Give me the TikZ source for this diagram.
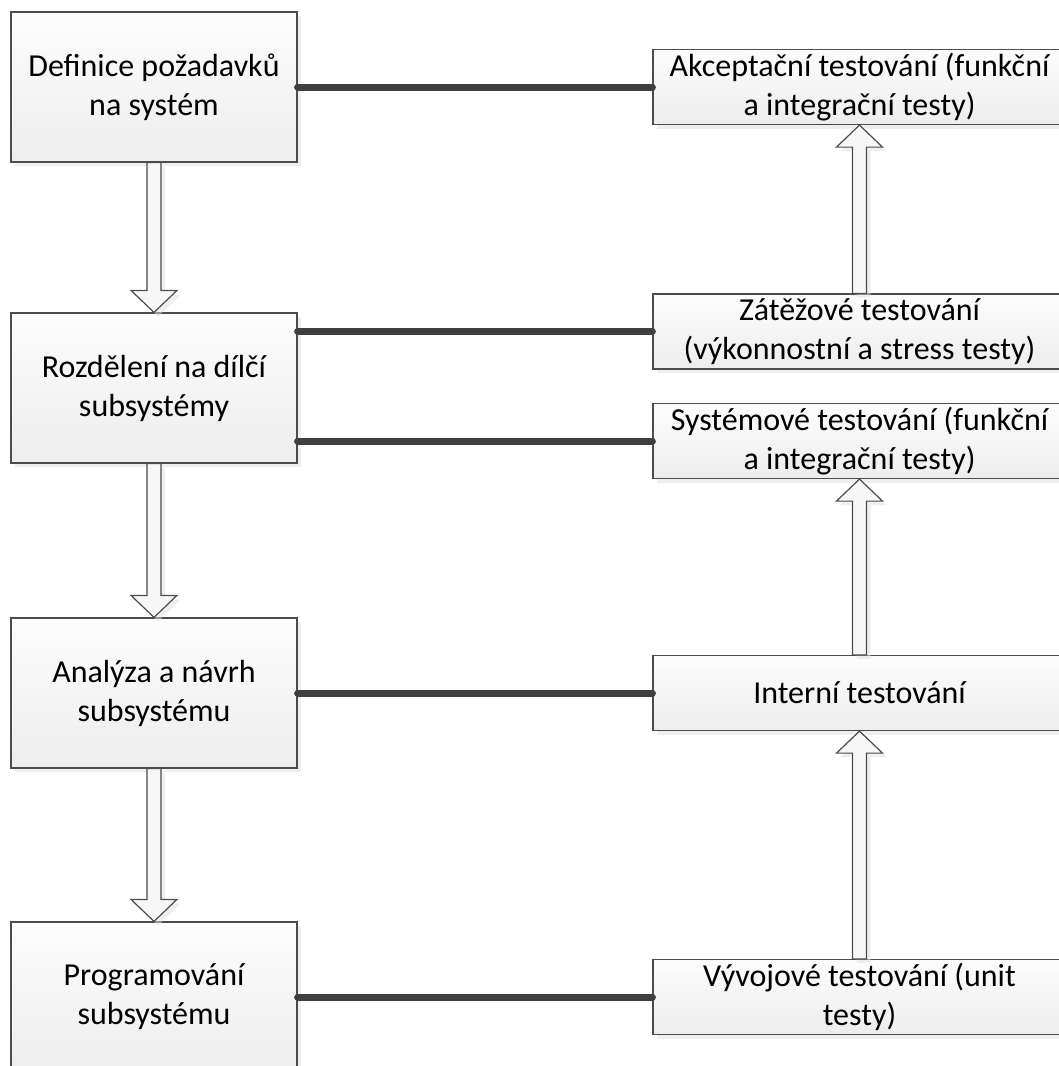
\documentclass[tikz,border=0pt]{standalone}
\usepackage{fontspec}
\setmainfont{Carlito}
\usetikzlibrary{calc,shadows}

\tikzset{
  box/.style={draw=black!70, line width=0.6pt, top color=gray!2, bottom color=gray!14,
    inner sep=0pt, align=center, font=\fontsize{16}{19.5}\selectfont,
    drop shadow={shadow xshift=2pt, shadow yshift=-2pt, fill=gray!25}},
  stagebox/.style={box, minimum width=143pt, minimum height=75pt},
  testbox/.style={box, minimum width=206.5pt, minimum height=37.5pt},
  link/.style={draw=black!75, line width=3.5pt, line cap=round},
  hollow/.style={draw=black!70, line width=0.6pt, fill=gray!6,
    drop shadow={shadow xshift=2pt, shadow yshift=-2pt, fill=gray!25}}
}

% block arrow: #1 tail, #2 tip, #3 = 1 pointing down, -1 pointing up
\newcommand{\hollowarrow}[3]{%
  \path[hollow] ($(#1)+(-7,0)$) -- ($(#2)+(-7,{-22*(#3)})$) -- ($(#2)+(-23,{-22*(#3)})$)
    -- (#2) -- ($(#2)+(23,{-22*(#3)})$) -- ($(#2)+(7,{-22*(#3)})$) -- ($(#1)+(7,0)$) -- cycle;}

\begin{document}
\begin{tikzpicture}[x=0.5pt, y=-0.5pt]
  \useasboundingbox (0,0) rectangle (1059,1066);

  \node[stagebox] (req)    at (154,87)  {Definice požadavků\\na systém};
  \node[stagebox] (split)  at (154,388) {Rozdělení na dílčí\\subsystémy};
  \node[stagebox] (design) at (154,693) {Analýza a návrh\\subsystému};
  \node[stagebox] (code)   at (154,997) {Programování\\subsystému};

  \node[testbox] (accept)   at (859.5,87)    {Akceptační testování (funkční\\a integrační testy)};
  \node[testbox] (load)     at (859.5,331.5) {Zátěžové testování\\(výkonnostní a stress testy)};
  \node[testbox] (system)   at (859.5,441)   {Systémové testování (funkční\\a integrační testy)};
  \node[testbox] (internal) at (859.5,693)   {Interní testování};
  \node[testbox] (unit)     at (859.5,997)   {Vývojové testování (unit\\testy)};

  \hollowarrow{req.south}{split.north}{1}
  \hollowarrow{split.south}{design.north}{1}
  \hollowarrow{design.south}{code.north}{1}

  \hollowarrow{load.north}{accept.south}{-1}
  \hollowarrow{internal.north}{system.south}{-1}
  \hollowarrow{unit.north}{internal.south}{-1}

  \draw[link] (req) -- (accept);
  \draw[link] (load.west -| split.east) -- (load.west);
  \draw[link] (system.west -| split.east) -- (system.west);
  \draw[link] (design) -- (internal);
  \draw[link] (code) -- (unit);
\end{tikzpicture}
\end{document}
